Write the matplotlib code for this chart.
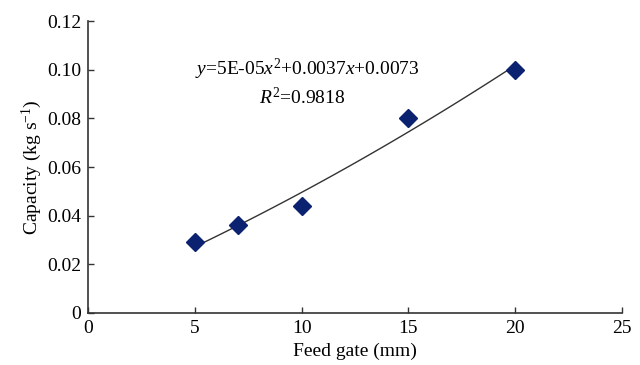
import numpy as np
import matplotlib
matplotlib.use('Agg')
import matplotlib.pyplot as plt

# data
feed_gate = [5, 7, 10, 15, 20]
capacity = [0.029, 0.036, 0.044, 0.080, 0.100]
x_ticks = [0, 5, 10, 15, 20, 25]
y_ticks = [0, 0.02, 0.04, 0.06, 0.08, 0.10, 0.12]
y_labels = ['0', '0.02', '0.04', '0.06', '0.08', '0.10', '0.12']

plt.rcParams['font.family'] = 'Liberation Serif'
plt.rcParams['mathtext.fontset'] = 'custom'
plt.rcParams['mathtext.rm'] = 'Liberation Serif'
plt.rcParams['mathtext.it'] = 'Liberation Serif:italic'

fig = plt.figure(figsize=(6.4, 3.65), dpi=100)
ax = fig.add_axes([0.1375, 0.1425, 0.8345, 0.7995])

# second order trend line (fitted like the spreadsheet did)
coef = np.polyfit(feed_gate, capacity, 2)
xs = np.linspace(min(feed_gate), max(feed_gate), 100)
ax.plot(xs, np.polyval(coef, xs), color='#333333', lw=1.0, zorder=2)

ax.plot(feed_gate, capacity, 'D', color='#0b2270', markersize=9, zorder=3)

ax.text(10.27, 0.100, r'$y$=5E-05$x^2$+0.0037$x$+0.0073', ha='center', va='center', fontsize=14)
ax.text(10.05, 0.0885, r'$R^2$=0.9818', ha='center', va='center', fontsize=14)

ax.set_xlim(0, 25)
ax.set_ylim(0, 0.12)
ax.set_xticks(x_ticks)
ax.set_yticks(y_ticks)
ax.set_yticklabels(y_labels)
ax.tick_params(direction='in', labelsize=14, length=4, width=1, colors='#333333', labelcolor='black', pad=5)
ax.spines['top'].set_visible(False)
ax.spines['right'].set_visible(False)
for s in ['left', 'bottom']:
    ax.spines[s].set_color('#333333')
    ax.spines[s].set_linewidth(1.2)

ax.set_xlabel('Feed gate (mm)', fontsize=14, labelpad=4)
ax.set_ylabel(r'Capacity (kg s$^{-1}$)', fontsize=14, labelpad=2)

fig.savefig('out.png', dpi=100)
